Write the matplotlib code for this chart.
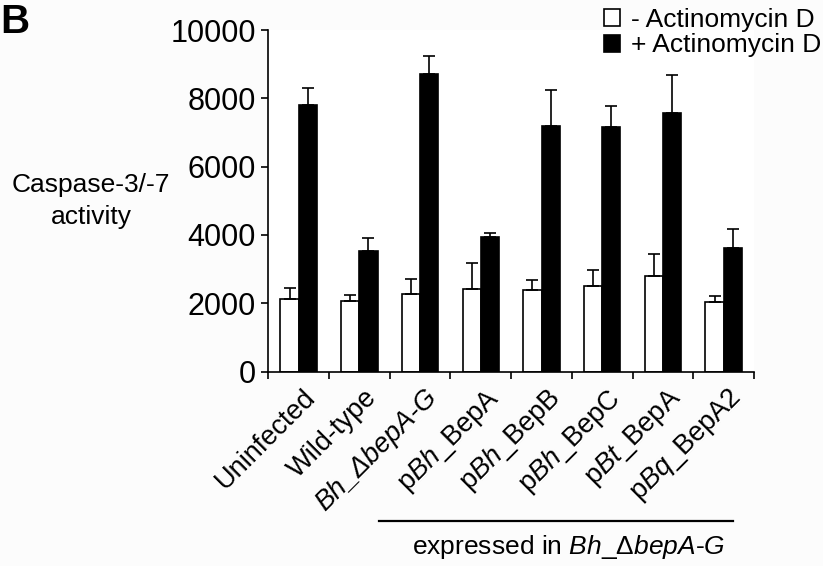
import matplotlib
matplotlib.use("Agg")
import matplotlib.pyplot as plt
import numpy as np
from matplotlib.patches import Patch
from matplotlib.lines import Line2D
from matplotlib.transforms import ScaledTranslation

plt.rcParams['font.family'] = ['Liberation Sans', 'DejaVu Sans']
plt.rcParams['mathtext.fontset'] = 'custom'
plt.rcParams['mathtext.rm'] = 'Liberation Sans'
plt.rcParams['mathtext.it'] = 'Liberation Sans:italic'

# Daten
groups = ['Uninfected', 'Wild-type', 'Bh_\u0394bepA-G',
          r'p$\mathit{Bh}$_BepA', r'p$\mathit{Bh}$_BepB', r'p$\mathit{Bh}$_BepC',
          r'p$\mathit{Bt}$_BepA', r'p$\mathit{Bq}$_BepA2']
minus_actd = [2115, 2065, 2280, 2415, 2380, 2495, 2795, 2035]
minus_err = [330, 165, 420, 770, 290, 470, 645, 165]
plus_actd = [7795, 3540, 8705, 3930, 7190, 7160, 7580, 3625]
plus_err = [500, 380, 545, 120, 1055, 615, 1105, 540]
y_ticks = [0, 2000, 4000, 6000, 8000, 10000]

fig = plt.figure(figsize=(8.23, 5.66), dpi=100)
ax = fig.add_axes([268.3 / 823, 1 - 371.5 / 566, (754 - 268.3) / 823, (371.5 - 30) / 566])

x = np.arange(len(groups))
w = 0.3
ekw = dict(elinewidth=1.2, capthick=1.2)
ax.bar(x - w / 2, minus_actd, w, color='white', edgecolor='black', linewidth=1.2,
       yerr=[np.zeros(len(x)), minus_err], capsize=4, error_kw=ekw)
ax.bar(x + w / 2, plus_actd, w, color='black', edgecolor='black', linewidth=1.2,
       yerr=[np.zeros(len(x)), plus_err], capsize=4, error_kw=ekw)

ax.set_xlim(-0.5, len(groups) - 0.5)
ax.set_ylim(0, 10000)
ax.set_yticks(y_ticks)
ax.tick_params(axis='y', labelsize=22, direction='out', length=5, width=1.2, pad=4)

# Ticks zwischen den Gruppen, Beschriftung in der Mitte
ax.set_xticks(np.arange(len(groups) + 1) - 0.5, minor=True)
ax.tick_params(axis='x', which='minor', direction='out', length=5, width=1.2)
ax.set_xticks(x)
ax.set_xticklabels(groups, rotation=45, ha='right', rotation_mode='anchor', fontsize=19.5)
ax.tick_params(axis='x', which='major', length=0, pad=9)
ax.get_xticklabels()[2].set_fontstyle('italic')
for lab in ax.get_xticklabels():
    lab.set_transform(lab.get_transform() + ScaledTranslation(0.04, 0, fig.dpi_scale_trans))

for s in ['top', 'right']:
    ax.spines[s].set_visible(False)
for s in ['left', 'bottom']:
    ax.spines[s].set_linewidth(1.2)

fig.text(91 / 823, 1 - 201 / 566, 'Caspase-3/-7\nactivity', ha='center', va='center',
         fontsize=19, linespacing=1.4)

fig.text(0.0, 1 - 33 / 566, 'B', fontsize=29, fontweight='bold', va='baseline')

handles = [Patch(facecolor='white', edgecolor='black', linewidth=1.2),
           Patch(facecolor='black', edgecolor='black', linewidth=1.2)]
fig.legend(handles, ['- Actinomycin D', '+ Actinomycin D'], loc='upper right',
           bbox_to_anchor=(1.004, 0.995), frameon=False, fontsize=19,
           handlelength=0.6, handleheight=0.6, handletextpad=0.4,
           labelspacing=0.05, borderpad=0.2, borderaxespad=0)

fig.add_artist(Line2D([379 / 823, 733 / 823], [1 - 521 / 566] * 2, color='black', linewidth=1.6))
fig.text(569 / 823, 1 - 547 / 566,
         r'expressed in $\mathit{Bh}$_$\mathit{\Delta bepA}$-$\mathit{G}$',
         ha='center', va='center', fontsize=19)

fig.savefig('out.png', dpi=100, facecolor='#fcfcfc')
